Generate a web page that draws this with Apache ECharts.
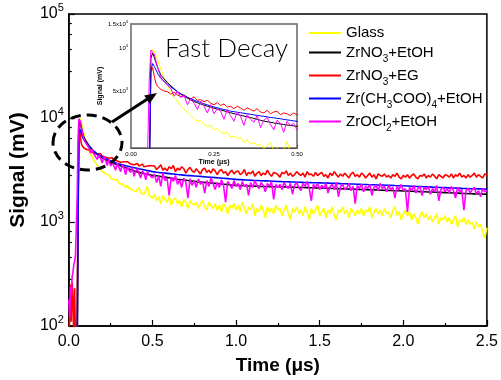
<!DOCTYPE html>
<html>
<head>
<meta charset="utf-8">
<script src="https://cdn.jsdelivr.net/npm/echarts@6/dist/echarts.min.js"></script>
<style>
  html, body { margin: 0; padding: 0; background: #fff; }
  #chart { width: 501px; height: 380px; }
</style>
</head>
<body>
<div id="chart"></div>
<script>
// time axis (μs), used by the smooth traces
const time = [
  0, 0.005, 0.01, 0.015, 0.02, 0.025, 0.03, 0.035, 0.04, 0.045, 0.05, 0.055, 0.06, 0.065, 0.07, 0.075, 0.08, 0.085, 0.09, 0.095, 0.1,
  0.11, 0.12, 0.13, 0.14, 0.15, 0.16, 0.17, 0.18, 0.19, 0.2, 0.21, 0.22, 0.23, 0.24, 0.25, 0.26, 0.27, 0.28, 0.29, 0.3,
  0.31, 0.32, 0.33, 0.34, 0.35, 0.36, 0.37, 0.38, 0.39, 0.4, 0.41, 0.42, 0.43, 0.44, 0.45, 0.46, 0.47, 0.48, 0.49, 0.5,
  0.525, 0.55, 0.575, 0.6, 0.625, 0.65, 0.675, 0.7, 0.725, 0.75, 0.775, 0.8, 0.825, 0.85, 0.875, 0.9, 0.925, 0.95, 0.975, 1.0,
  1.025, 1.05, 1.075, 1.1, 1.125, 1.15, 1.175, 1.2, 1.225, 1.25, 1.275, 1.3, 1.325, 1.35, 1.375, 1.4, 1.425, 1.45, 1.475, 1.5,
  1.525, 1.55, 1.575, 1.6, 1.625, 1.65, 1.675, 1.7, 1.725, 1.75, 1.775, 1.8, 1.825, 1.85, 1.875, 1.9, 1.925, 1.95, 1.975, 2.0,
  2.025, 2.05, 2.075, 2.1, 2.125, 2.15, 2.175, 2.2, 2.225, 2.25, 2.275, 2.3, 2.325, 2.35, 2.375, 2.4, 2.425, 2.45, 2.475, 2.5
]
// finer time steps after 0.5 μs, used by the noisy traces
const timeTail = [
  0.5125, 0.525, 0.5375, 0.55, 0.5625, 0.575, 0.5875, 0.6, 0.6125, 0.625,
  0.6375, 0.65, 0.6625, 0.675, 0.6875, 0.7, 0.7125, 0.725, 0.7375, 0.75,
  0.7625, 0.775, 0.7875, 0.8, 0.8125, 0.825, 0.8375, 0.85, 0.8625, 0.875,
  0.8875, 0.9, 0.9125, 0.925, 0.9375, 0.95, 0.9625, 0.975, 0.9875, 1.0,
  1.0125, 1.025, 1.0375, 1.05, 1.0625, 1.075, 1.0875, 1.1, 1.1125, 1.125,
  1.1375, 1.15, 1.1625, 1.175, 1.1875, 1.2, 1.2125, 1.225, 1.2375, 1.25,
  1.2625, 1.275, 1.2875, 1.3, 1.3125, 1.325, 1.3375, 1.35, 1.3625, 1.375,
  1.3875, 1.4, 1.4125, 1.425, 1.4375, 1.45, 1.4625, 1.475, 1.4875, 1.5,
  1.5125, 1.525, 1.5375, 1.55, 1.5625, 1.575, 1.5875, 1.6, 1.6125, 1.625,
  1.6375, 1.65, 1.6625, 1.675, 1.6875, 1.7, 1.7125, 1.725, 1.7375, 1.75,
  1.7625, 1.775, 1.7875, 1.8, 1.8125, 1.825, 1.8375, 1.85, 1.8625, 1.875,
  1.8875, 1.9, 1.9125, 1.925, 1.9375, 1.95, 1.9625, 1.975, 1.9875, 2.0,
  2.0125, 2.025, 2.0375, 2.05, 2.0625, 2.075, 2.0875, 2.1, 2.1125, 2.125,
  2.1375, 2.15, 2.1625, 2.175, 2.1875, 2.2, 2.2125, 2.225, 2.2375, 2.25,
  2.2625, 2.275, 2.2875, 2.3, 2.3125, 2.325, 2.3375, 2.35, 2.3625, 2.375,
  2.3875, 2.4, 2.4125, 2.425, 2.4375, 2.45, 2.4625, 2.475, 2.4875, 2.5
]
const timeFine = time.slice(0, 61).concat(timeTail)

// signal (mV)
const glass = [
  50, 50, 50, 50, 50, 50, 50, 50, 50, 50, 60, 1500, 9000, 9950, 9600, 9100, 8400, 7700, 7100, 6600, 6200,
  5500, 4900, 4500, 4250, 3900, 3700, 3550, 3350, 3200, 3050, 3100, 2900, 2800, 2850, 2650, 2700, 2550, 2500, 2550, 2350,
  2400, 2300, 2350, 2150, 2250, 2100, 2150, 2050, 2100, 1950, 2050, 2150, 1900, 1950, 1850, 1900, 2200, 1800, 1750, 1700,
  1850, 1600, 1750, 1500, 1800, 1650, 1550, 1750, 1450, 1650,
  1700, 1500, 1600, 1400, 1650, 1550, 1350, 1600, 1500, 1450,
  1550, 1350, 1500, 1600, 1400, 1300, 1550, 1450, 1350, 1500,
  1300, 1450, 1250, 1500, 1400, 1200, 1450, 1350, 1500, 1300,
  1450, 1250, 1550, 1350, 1200, 1400, 1300, 1500, 1150, 1350,
  1250, 1450, 1300, 1100, 1400, 1250, 1350, 1200, 1450, 1300,
  1350, 1150, 1300, 1450, 1200, 1050, 1350, 1250, 1400, 1200,
  1300, 1150, 1400, 1250, 1050, 1350, 1200, 1300, 1450, 1150,
  1250, 1350, 1100, 1300, 1200, 1400, 1150, 1050, 1300, 1250,
  1400, 1200, 1300, 1100, 1350, 1250, 1150, 1300, 1200, 1350,
  1150, 1300, 1250, 1400, 1100, 1250, 1350, 1200, 1300, 1150,
  1350, 1200, 1250, 1100, 1300, 1400, 1150, 1250, 1050, 1200,
  1300, 1150, 1250, 1050, 1200, 1100, 950, 1150, 1250, 1100,
  1200, 1050, 1150, 1000, 1100, 1200, 950, 1100, 1050, 1150,
  1000, 1100, 950, 1050, 1150, 900, 1050, 1000, 1100, 950,
  1050, 950, 1000, 850, 1000, 900, 950, 800, 700, 880
]
const zrNO3EtOH = [
  50, 50, 50, 50, 50, 50, 50, 50, 50, 50, 60, 1200, 8600, 9300, 8700, 8000, 7400, 6900, 6500, 6300, 6100,
  5750, 5450, 5200, 4950, 4750, 4600, 4450, 4330, 4220, 4130, 4050, 3970, 3900, 3840, 3780, 3720, 3670, 3620, 3560, 3510,
  3460, 3410, 3370, 3320, 3280, 3240, 3200, 3150, 3100, 3060, 3030, 3000, 2970, 2940, 2920, 2890, 2870, 2850, 2830, 2810,
  2780, 2740, 2700, 2660, 2620, 2580, 2550, 2520, 2490, 2460, 2430, 2410, 2390, 2370, 2350, 2330, 2310, 2290, 2270, 2250,
  2240, 2230, 2220, 2215, 2210, 2200, 2195, 2190, 2185, 2180, 2175, 2170, 2165, 2160, 2150, 2145, 2140, 2135, 2130, 2120,
  2115, 2110, 2100, 2095, 2090, 2080, 2075, 2070, 2060, 2055, 2050, 2040, 2035, 2030, 2020, 2015, 2010, 2000, 1995, 1990,
  1985, 1975, 1970, 1960, 1955, 1945, 1940, 1930, 1925, 1915, 1910, 1900, 1895, 1885, 1880, 1870, 1865, 1860, 1855, 1850
]
const zrNO3EG = [
  80, 120, 250, 110, 265, 180, 70, 230, 60, 60, 90, 1500, 6800, 7350, 6400, 5700, 5400, 5300, 5150, 5050, 5000,
  4950, 4750, 4900, 4700, 4550, 4700, 4500, 4400, 4550, 4300, 4350, 4200, 4300, 4100, 4000, 4150, 3950, 4050, 3850, 3900,
  3750, 3900, 3800, 3650, 3800, 3700, 3600, 3750, 3550, 3500, 3650, 3450, 3550, 3600, 3400, 3500, 3450, 3350, 3500, 3400,
  3450, 3200, 3350, 3550, 3150, 3300, 3100, 3400, 3250, 3500,
  3050, 3300, 3150, 3400, 3250, 2950, 3200, 3350, 3100, 3000,
  3250, 3050, 2900, 3200, 3300, 3000, 3150, 2950, 3250, 3100,
  2850, 3100, 3200, 2950, 3050, 2800, 3000, 3150, 2900, 3050,
  3100, 2850, 2950, 3200, 2800, 3000, 2900, 3100, 2750, 2950,
  3050, 2800, 2950, 2850, 3150, 2900, 2750, 3000, 2950, 2850,
  2700, 3000, 2900, 3100, 2800, 2950, 2750, 2850, 3050, 2900,
  2800, 2950, 2700, 3050, 2850, 2900, 2750, 3000, 2800, 2900,
  3000, 2750, 2850, 2650, 2950, 2800, 3050, 2850, 2700, 2900,
  2750, 2950, 2800, 2650, 2900, 3000, 2750, 2850, 2700, 2950,
  2850, 2650, 2800, 2950, 2700, 2850, 2600, 2900, 2800, 2750,
  2900, 2700, 2800, 2650, 2850, 2750, 2950, 2700, 2600, 2800,
  2700, 2850, 2650, 2800, 2900, 2700, 2600, 2800, 2750, 2900,
  2650, 2800, 2700, 2900, 2750, 2600, 2850, 2750, 2650, 2850,
  2800, 2700, 2900, 2650, 2850, 2750, 2950, 2700, 2800, 2650,
  2850, 2700, 2800, 2950, 2700, 2850, 2750, 2650, 2900, 2850
]
const zrAcEtOH = [
  50, 50, 50, 50, 50, 50, 50, 50, 50, 50, 60, 900, 7000, 7850, 7500, 7100, 6700, 6400, 6150, 6000, 5900,
  5600, 5350, 5150, 4950, 4790, 4650, 4520, 4410, 4310, 4220, 4140, 4060, 3990, 3920, 3860, 3800, 3750, 3700, 3650, 3600,
  3570, 3540, 3510, 3480, 3450, 3420, 3390, 3360, 3330, 3310, 3280, 3250, 3230, 3200, 3180, 3150, 3120, 3100, 3070, 3050,
  3010, 2980, 2950, 2920, 2890, 2860, 2840, 2810, 2790, 2770, 2750, 2730, 2710, 2690, 2670, 2650, 2630, 2610, 2590, 2570,
  2555, 2540, 2530, 2515, 2505, 2495, 2485, 2475, 2465, 2455, 2445, 2440, 2430, 2425, 2415, 2405, 2400, 2390, 2385, 2380,
  2370, 2365, 2355, 2350, 2340, 2335, 2325, 2320, 2310, 2300, 2295, 2285, 2280, 2270, 2265, 2255, 2250, 2240, 2235, 2230,
  2220, 2210, 2200, 2195, 2185, 2175, 2165, 2160, 2150, 2140, 2130, 2120, 2115, 2105, 2100, 2090, 2085, 2080, 2075, 2070
]
const zrOCl2EtOH = [
  180, 120, 240, 200, 300, 330, 390, 420, 480, 500, 1800, 6000, 9800, 10050, 9200, 8200, 7400, 6800, 6300, 6000, 5800,
  5500, 5200, 4600, 5000, 4500, 4650, 4000, 4400, 4100, 3700, 4250, 3900, 3500, 4000, 3450, 3750, 3600, 3150, 3700, 3350,
  3050, 3550, 3300, 2850, 3400, 3150, 3000, 3350, 2750, 3100, 3250, 2900, 2650, 3100, 2950, 2550, 3050, 2850, 2950, 2650,
  2900, 2400, 2750, 2200, 2950, 2500, 2650, 1800, 2700, 2450,
  2800, 2300, 2550, 2150, 2650, 2400, 1700, 2600, 2250, 2500,
  2150, 2600, 2300, 2450, 1900, 2500, 2200, 2650, 2350, 2050,
  2400, 2150, 2550, 2250, 1550, 2450, 2300, 2100, 2500, 2200,
  2350, 2050, 2450, 2200, 2300, 1800, 2400, 2150, 2500, 2250,
  2100, 2400, 2250, 1950, 2350, 2200, 2450, 1650, 2300, 2150,
  2300, 2050, 2400, 2200, 2100, 2350, 1850, 2250, 2400, 2150,
  2000, 2350, 2200, 2450, 2100, 1600, 2300, 2150, 2350, 2050,
  2250, 2100, 2350, 1900, 2200, 2300, 2050, 2400, 1750, 2200,
  2300, 2050, 2150, 2350, 2000, 2200, 1500, 2250, 2100, 2300,
  1950, 2200, 2100, 2300, 1800, 2150, 2250, 2000, 2350, 2100,
  2200, 1950, 2250, 2050, 2150, 1700, 2200, 2050, 2300, 2000,
  2100, 1250, 2150, 2000, 2250, 1900, 2100, 2200, 1800, 2150,
  2050, 2200, 1850, 2100, 1950, 2250, 1600, 2050, 2150, 1950,
  2100, 1900, 2200, 2000, 1700, 2150, 1950, 2050, 1300, 2000,
  2100, 1900, 2050, 2150, 1850, 2000, 1750, 2100, 1950, 2000
]

const seriesNames = ['Glass', 'ZrNO3+EtOH', 'ZrNO3+EG', 'Zr(CH3COO)4+EtOH', 'ZrOCl2+EtOH']
const seriesColors = ['#ffff00', '#000000', '#ff0000', '#0000ff', '#ff00ff']
const seriesValues = [glass, zrNO3EtOH, zrNO3EG, zrAcEtOH, zrOCl2EtOH]
const seriesTimes = [timeFine, time, timeFine, time, timeFine]
// legend text with subscripts
const legendText = {
  'Glass': 'Glass',
  'ZrNO3+EtOH': '{m|ZrNO}{sub|3}{m|+EtOH}',
  'ZrNO3+EG': '{m|ZrNO}{sub|3}{m|+EG}',
  'Zr(CH3COO)4+EtOH': '{m|Zr(CH}{sub|3}{m|COO)}{sub|4}{m|+EtOH}',
  'ZrOCl2+EtOH': '{m|ZrOCl}{sub|2}{m|+EtOH}'
}
const insetTicks = [5000, 10000, 15000]
const insetLabels = { 5000: '5x10{sup|3}', 10000: '10{sup|4}', 15000: '1.5x10{sup|4}' }

const chart = echarts.init(document.getElementById('chart'))
const font = 'Liberation Sans'

const toPairs = (ts, vals) => ts.map((t, i) => [t, vals[i]])

let series = []
seriesNames.forEach((name, i) => {
  series.push({
    name: name, type: 'line', xAxisIndex: 0, yAxisIndex: 0,
    data: toPairs(seriesTimes[i], seriesValues[i]), symbol: 'none', clip: true,
    lineStyle: { color: seriesColors[i], width: 1.6 }, itemStyle: { color: seriesColors[i] }
  })
})
// same traces again for the inset
seriesNames.forEach((name, i) => {
  series.push({
    name: name, type: 'line', xAxisIndex: 1, yAxisIndex: 1,
    data: toPairs(seriesTimes[i], seriesValues[i]), symbol: 'none', clip: true,
    lineStyle: { color: seriesColors[i], width: 1 }, itemStyle: { color: seriesColors[i] }
  })
})

const option = {
  animation: false,
  backgroundColor: '#fff',
  textStyle: { fontFamily: font },
  grid: [
    { left: 66, right: 10, top: 14, bottom: 53, show: true, borderColor: '#000', borderWidth: 1.5, backgroundColor: 'transparent' },
    { left: 131, top: 24, width: 166, height: 124, show: true, borderColor: '#666', borderWidth: 1.5, backgroundColor: '#fff', z: 3 }
  ],
  legend: {
    data: seriesNames, orient: 'vertical', left: 303, top: 20, itemGap: 0,
    itemWidth: 32, itemHeight: 14, itemStyle: { opacity: 0 },
    formatter: name => legendText[name],
    textStyle: {
      fontFamily: font, fontSize: 15, color: '#000', lineHeight: 16,
      rich: {
        m: { fontFamily: font, fontSize: 15, color: '#000', lineHeight: 23 },
        sub: { fontFamily: font, fontSize: 10, color: '#000', lineHeight: 8, verticalAlign: 'bottom' }
      }
    }
  },
  xAxis: [
    {
      type: 'value', gridIndex: 0, min: 0, max: 2.5, interval: 0.5,
      name: 'Time (μs)', nameLocation: 'middle', nameGap: 30,
      nameTextStyle: { fontFamily: font, fontSize: 19, fontWeight: 'bold', color: '#000' },
      axisLine: { lineStyle: { color: '#000', width: 1.5 } },
      axisTick: { inside: true, length: 6, lineStyle: { color: '#000', width: 1.2 } },
      minorTick: { show: true, splitNumber: 2, length: 3, lineStyle: { color: '#000', width: 1.2 } },
      splitLine: { show: false },
      axisLabel: { fontFamily: font, fontSize: 16, color: '#000', margin: 8, formatter: v => v.toFixed(1) }
    },
    {
      type: 'value', gridIndex: 1, min: 0, max: 0.5, interval: 0.25,
      name: 'Time (μs)', nameLocation: 'middle', nameGap: 11,
      nameTextStyle: { fontFamily: font, fontSize: 7, fontWeight: 'bold', color: '#000' },
      axisLine: { lineStyle: { color: '#000', width: 1 } },
      axisTick: { inside: true, length: 3, lineStyle: { color: '#000', width: 1 } },
      splitLine: { show: false },
      axisLabel: { fontFamily: font, fontSize: 6, color: '#000', margin: 3, formatter: v => v.toFixed(2) }
    }
  ],
  yAxis: [
    {
      type: 'log', logBase: 10, gridIndex: 0, min: 100, max: 100000,
      name: 'Signal (mV)', nameLocation: 'middle', nameGap: 35,
      nameTextStyle: { fontFamily: font, fontSize: 21, fontWeight: 'bold', color: '#000' },
      axisLine: { lineStyle: { color: '#000', width: 1.5 } },
      axisTick: { inside: true, length: 6, lineStyle: { color: '#000', width: 1.2 } },
      minorTick: { show: true, splitNumber: 5, length: 3, lineStyle: { color: '#000', width: 1.2 } },
      splitLine: { show: false },
      axisLabel: {
        margin: 5, color: '#000',
        formatter: v => '{b|10}{sup|' + Math.round(Math.log10(v)) + '}',
        rich: {
          b: { fontFamily: font, fontSize: 16, color: '#000', lineHeight: 23 },
          sup: { fontFamily: font, fontSize: 11, color: '#000', lineHeight: 11, verticalAlign: 'top' }
        }
      }
    },
    {
      type: 'log', logBase: 10, gridIndex: 1, min: 1970, max: 15000,
      name: 'Signal (mV)', nameLocation: 'middle', nameGap: 8,
      nameTextStyle: { fontFamily: font, fontSize: 7, fontWeight: 'bold', color: '#000' },
      axisLine: { lineStyle: { color: '#000', width: 1 } },
      axisTick: { inside: true, length: 3, customValues: insetTicks, lineStyle: { color: '#000', width: 1 } },
      splitLine: { show: false },
      axisLabel: {
        margin: 3, color: '#000', customValues: insetTicks,
        formatter: v => insetLabels[Math.round(v)] || '',
        rich: {
          sup: { fontFamily: font, fontSize: 4, color: '#000', lineHeight: 4, verticalAlign: 'top' }
        },
        fontSize: 6, lineHeight: 9
      }
    }
  ],
  graphic: [
    {
      type: 'ellipse', shape: { cx: 87.5, cy: 142.5, rx: 34.5, ry: 27.5 }, z: 100,
      style: { fill: 'none', stroke: '#000', lineWidth: 3, lineDash: [10, 6] }
    },
    {
      type: 'line', shape: { x1: 112, y1: 122, x2: 149, y2: 98 }, z: 100,
      style: { stroke: '#000', lineWidth: 3 }
    },
    {
      type: 'polygon', shape: { points: [[157, 93], [149.6, 103.8], [144.2, 95.4]] }, z: 100,
      style: { fill: '#000' }
    },
    {
      type: 'text', x: 165, y: 49, z: 100,
      style: { text: 'Fast Decay', font: '300 26px Lato', fill: '#000', textVerticalAlign: 'middle' }
    }
  ],
  series: series
}
chart.setOption(option)
</script>
</body>
</html>
